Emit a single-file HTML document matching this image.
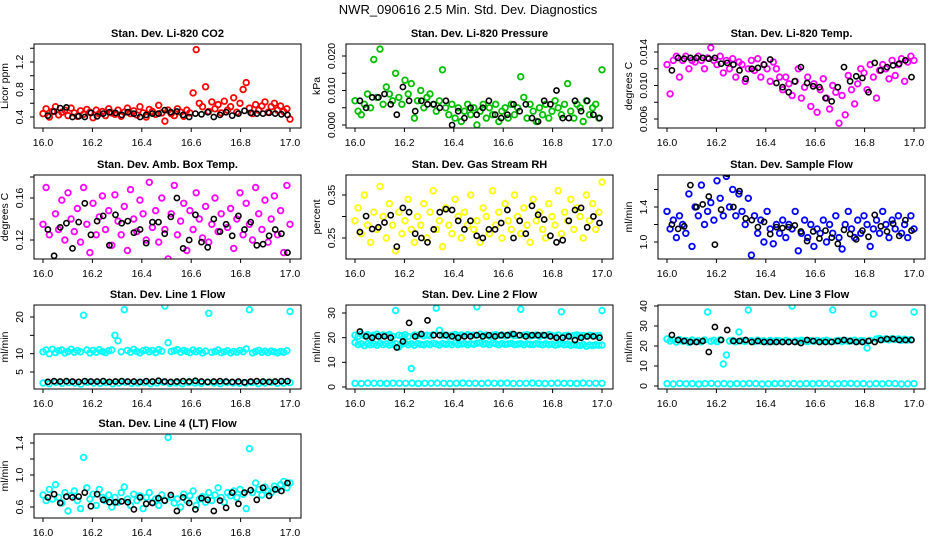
<!DOCTYPE html>
<html><head><meta charset="utf-8">
<style>
html,body{margin:0;padding:0;background:#fff;}
svg{display:block;font-family:"Liberation Sans",Arial,sans-serif;}
</style></head>
<body>
<svg id="chart" width="936" height="540" viewBox="0 0 936 540" xmlns="http://www.w3.org/2000/svg">
<text x="468" y="14" text-anchor="middle" font-size="13">NWR_090616  2.5 Min. Std. Dev. Diagnostics</text>
</svg>
<script>
// ---- data ----
const xTicks=[16.0,16.2,16.4,16.6,16.8,17.0];
const co2Main=[0.45,0.52,0.40,0.48,0.55,0.43,0.47,0.50,0.42,0.53,0.46,0.41,0.49,0.44,0.51,0.47,0.39,0.50,0.45,0.48,
0.42,0.52,0.46,0.44,0.50,0.41,0.47,0.53,0.45,0.49,0.43,0.55,0.46,0.40,0.51,0.48,0.44,0.57,0.46,0.34,
0.50,0.45,0.42,0.52,0.47,0.41,0.50,0.46,0.75,1.38,0.60,0.55,0.84,0.48,0.62,0.52,0.58,0.46,0.63,0.50,
0.55,0.68,0.47,0.60,0.80,0.90,0.53,0.45,0.58,0.50,0.56,0.62,0.47,0.55,0.60,0.50,0.56,0.48,0.52,0.37];
const co2Ref=[0.42,0.48,0.53,0.54,0.40,0.41,0.40,0.46,0.41,0.45,0.47,0.46,0.43,0.47,0.45,0.40,0.43,0.45,0.45,0.50,0.47,0.48,0.43,0.40,0.45,0.44,0.47,0.40,0.43,0.47,0.42,0.45,0.49,0.46,0.45,0.45,0.46,0.45,0.44,0.43];
const presMain=[0.007,0.004,0.003,0.006,0.009,0.005,0.019,0.008,0.022,0.006,0.011,0.009,0.007,0.015,0.008,0.006,0.013,0.009,0.012,0.002,
0.007,0.010,0.005,0.008,0.009,0.006,0.004,0.007,0.016,0.005,0.003,0.006,0.002,0.005,0.001,0.004,0.006,0.003,0.005,0.000,
0.004,0.006,0.002,0.005,0.003,0.006,0.001,0.004,0.005,0.002,0.006,0.003,0.005,0.014,0.008,0.002,0.006,0.004,0.001,0.005,
0.003,0.006,0.002,0.004,0.007,0.005,0.003,0.006,0.012,0.004,0.002,0.006,0.005,0.001,0.007,0.003,0.005,0.006,0.002,0.016];
const presRef=[0.007,0.005,0.008,0.008,0.009,0.006,0.003,0.011,0.007,0.004,0.007,0.006,0.006,0.005,0.007,0.000,0.004,0.002,0.005,0.003,0.005,0.007,0.003,0.002,0.003,0.006,0.004,0.006,0.002,0.001,0.007,0.006,0.010,0.002,0.002,0.007,0.004,0.007,0.003,0.002];
const tempMain=[0.0125,0.009,0.013,0.0135,0.011,0.013,0.0135,0.012,0.013,0.0128,0.0135,0.013,0.012,0.0133,0.0145,0.013,0.0125,0.0135,0.0115,0.013,
0.012,0.0132,0.011,0.0128,0.0125,0.0105,0.012,0.013,0.0118,0.0132,0.011,0.0125,0.012,0.0105,0.0128,0.012,0.011,0.0095,0.011,0.0102,
0.0088,0.0105,0.012,0.0085,0.0098,0.011,0.0075,0.0102,0.0068,0.0095,0.0108,0.0085,0.0072,0.010,0.0092,0.0055,0.0088,0.0065,0.0112,0.0095,
0.0078,0.0102,0.012,0.0115,0.0095,0.0125,0.011,0.0085,0.0118,0.0125,0.012,0.0108,0.013,0.0112,0.0125,0.0132,0.0105,0.0128,0.0135,0.013];
const tempRef=[0.0118,0.0133,0.0132,0.0133,0.0133,0.0133,0.0132,0.0133,0.0126,0.0127,0.0125,0.0118,0.0108,0.012,0.0121,0.0125,0.0131,0.0103,0.0098,0.0092,0.0105,0.0122,0.0103,0.0099,0.0098,0.0085,0.0081,0.0098,0.0122,0.0105,0.0111,0.0109,0.0092,0.0127,0.0118,0.0122,0.0124,0.0126,0.013,0.011];
const ambMain=[0.135,0.17,0.125,0.185,0.145,0.13,0.158,0.12,0.165,0.14,0.128,0.15,0.118,0.17,0.135,0.108,0.155,0.125,0.142,0.162,
0.13,0.148,0.115,0.163,0.138,0.125,0.152,0.11,0.168,0.14,0.128,0.158,0.145,0.12,0.175,0.132,0.148,0.118,0.16,0.13,
0.102,0.145,0.172,0.125,0.138,0.155,0.11,0.148,0.13,0.165,0.14,0.122,0.152,0.118,0.135,0.16,0.128,0.145,0.185,0.132,
0.15,0.112,0.14,0.165,0.125,0.155,0.135,0.12,0.17,0.145,0.13,0.158,0.118,0.14,0.162,0.125,0.148,0.108,0.172,0.135];
const ambRef=[0.13,0.105,0.132,0.136,0.112,0.137,0.155,0.125,0.138,0.143,0.115,0.144,0.136,0.138,0.127,0.13,0.117,0.137,0.137,0.126,0.142,0.16,0.112,0.12,0.144,0.118,0.113,0.14,0.128,0.135,0.124,0.143,0.13,0.137,0.115,0.116,0.124,0.13,0.126,0.108];
const rhMain=[0.29,0.32,0.26,0.35,0.28,0.24,0.31,0.27,0.37,0.30,0.25,0.33,0.28,0.22,0.31,0.26,0.29,0.34,0.27,0.24,
0.30,0.28,0.33,0.25,0.31,0.36,0.27,0.29,0.23,0.32,0.28,0.26,0.34,0.30,0.25,0.31,0.28,0.35,0.27,0.29,
0.24,0.32,0.30,0.26,0.36,0.28,0.31,0.25,0.33,0.29,0.27,0.35,0.30,0.26,0.32,0.28,0.24,0.34,0.29,0.31,
0.27,0.25,0.33,0.30,0.28,0.36,0.26,0.31,0.29,0.34,0.27,0.32,0.30,0.25,0.35,0.29,0.33,0.27,0.31,0.38];
const rhRef=[0.264,0.301,0.271,0.275,0.286,0.303,0.23,0.32,0.31,0.26,0.25,0.24,0.27,0.31,0.317,0.315,0.29,0.27,0.29,0.255,0.25,0.27,0.27,0.285,0.315,0.25,0.29,0.26,0.325,0.304,0.293,0.255,0.24,0.245,0.29,0.315,0.32,0.275,0.30,0.285];
const sampMain=[1.35,1.15,1.25,1.05,1.3,1.2,1.1,1.55,0.95,1.4,1.3,1.65,1.2,1.35,1.45,1.25,1.7,1.5,1.3,1.75,
1.4,1.6,1.3,1.55,1.35,1.2,1.5,0.85,1.3,1.1,1.25,1.0,1.35,1.15,0.98,1.2,1.1,1.25,1.05,1.2,
1.15,1.35,0.9,1.1,1.25,1.05,1.2,0.95,1.15,1.1,1.25,1.0,1.2,1.1,1.3,1.05,0.92,1.2,1.35,1.15,
1.05,1.25,1.1,1.3,1.2,0.95,1.15,1.25,1.1,1.35,1.2,1.05,1.25,1.15,1.3,1.1,1.2,1.05,1.3,1.15];
const sampRef=[1.2,1.15,1.18,1.65,1.4,1.43,1.52,0.97,1.37,1.78,1.40,1.58,1.27,1.25,1.17,1.23,1.09,1.17,1.16,1.17,1.19,1.12,1.01,1.12,1.04,1.13,1.05,0.98,1.14,1.09,1.03,1.13,1.06,1.31,1.18,1.12,1.21,1.07,1.25,1.13];
const l1Main=[10.5,11,10,11.2,10.3,10.8,11,10.2,10.6,11.2,10.4,10.8,10.5,20.5,11,10.2,10.9,10.4,11.1,10.6,
10.3,10.8,11,15,13.5,10.5,22,10.9,10.4,11.2,10.6,10.2,10.8,11,10.5,10.9,10.3,11.1,10.7,23,
13,10.6,10.8,11.1,10.4,10.9,10.6,10.3,11,10.5,10.8,10.2,10.7,21,10.4,10.6,11,10.3,10.5,10.8,
10.2,10.6,10.4,10.9,10.5,11.3,22,10.2,10.6,10.9,10.4,10.7,10.3,10.7,10.5,10.2,10.6,10.4,10.8,21.5];
const l1Low=[2.0,1.8,2.2,1.9,2.1,2.0,1.7,2.2,2.0,1.9,2.1,1.8,2.0,2.2,1.9,2.0,2.1,1.8,2.0,2.2,1.9,2.0,1.8,2.1,2.0,1.9,2.2,2.0,1.8,2.1,2.0,1.9,2.0,2.1,1.8,2.0,2.2,1.9,2.0,2.1];
const l1Ref=[2.3,2.5,2.4,2.5,2.4,2.3,2.5,2.4,2.4,2.5,2.3,2.4,2.5,2.4,2.4,2.3,2.5,2.4,2.6,2.4,2.3,2.4,2.5,2.4,2.6,2.4,2.3,2.4,2.5,2.4,2.3,2.4,2.2,2.4,2.5,2.4,2.3,2.4,2.5,2.5];
const l2Hi=[21,20.5,21.5,20.8,21.2,20.6,21,21.4,20.7,21.1,20.9,21.3,20.6,31,21,20.8,21.2,20.5,7.5,21.1,
20.9,21.3,20.7,21,20.8,21.2,32,23,20.9,21.1,20.6,21,21.3,20.8,21.1,20.7,21.2,20.9,21,32.5,
21.4,20.8,21.1,20.6,21,21.2,20.9,21.1,20.7,21,21.3,20.8,20.9,31.5,21,21.2,20.7,20.9,21.1,20.6,
21,20.8,21.2,20.9,20.7,21.1,30.5,20.8,21,20.6,20.9,21.1,20.7,20.9,20.6,21,20.8,20.7,20.9,31];
const l2Lo=[18,17.2,17.5,16.8,17.6,17.1,17.4,16.9,17.7,17.2,17.5,17,17.3,17.6,16.2,17.4,17.8,17.1,17.5,16.9,
17.6,17.3,17.1,17.5,17.2,17.7,17.4,17,17.6,17.3,17.5,17.1,17.8,17.2,17.4,17.6,17.1,17.5,17.3,17.7,
17.9,17.4,17.6,17.2,17.8,17.5,17.1,17.6,17.3,17.5,17.7,17.2,17.4,17.6,17.1,17.5,17.3,17.2,17.6,17.4,
17.1,17.5,17.2,17.4,17,17.3,17.5,17.1,17.4,16.9,17.2,17,16.8,17.2,16.5,17,16.8,17.1,16.9,17];
const l2Zero=[1.5,1.4,1.6,1.5,1.5,1.4,1.6,1.5,1.5,1.6,1.4,1.5,1.5,1.6,1.5,1.4,1.5,1.6,1.5,1.5,1.4,1.6,1.5,1.5,1.6,1.4,1.5,1.5,1.6,1.5,1.4,1.5,1.6,1.5,1.5,1.4,1.6,1.5,1.5,1.5];
const l2Ref=[22.5,20.5,20,20.5,20.5,20,16,18.5,26,20.5,21.5,27,21,21,21,20.5,20,20.5,20.5,21,20.5,21,20.5,21,21,21.5,21,20.5,21,21,21,20.5,20,20,20.5,19,20,20.5,20.5,20];
const l3Main=[23.5,22.5,23,22,23.2,22.4,22.8,21.8,23,22.3,22.6,22.1,23,37,22.4,22.9,22.2,23.1,11,15.5,
22.5,22.8,22.1,27,22.6,22.3,38,22.7,22.2,22.9,22.4,22.6,22.1,22.8,22.3,22.7,22.5,22.2,22.8,22.4,
40,22.6,22.3,22.9,22.5,22.2,22.7,22.4,22.8,22.1,22.6,22.9,22.3,38,22.5,22.7,22.2,22.8,22.4,22.6,
22.9,22.3,22.7,22.5,19,22.8,36,23.5,23.8,23.2,23.6,23.1,23.7,23.3,23.5,22.9,23.4,23,23.2,37];
const l3Zero=[1.2,1.0,1.3,1.1,1.2,1.0,1.2,1.3,1.1,1.2,1.0,1.2,1.1,1.3,1.2,1.0,1.1,1.2,1.3,1.1,1.2,1.0,1.2,1.1,1.3,1.2,1.0,1.1,1.2,1.3,1.1,1.2,1.0,1.2,1.1,1.3,1.2,1.0,1.1,1.2];
const l3Ref=[25.5,23,22.5,22,22,22.5,17,29.5,23,28,22.5,22.5,23,22,22.5,22,22,22,22,22,22,21.5,23,22.5,22,22,22,22.5,23,22.5,22,22,22.5,22,23,23.5,23.5,23,23,23];
const l4Main=[0.75,0.68,0.82,0.7,0.88,0.72,0.65,0.78,0.55,0.74,0.8,0.68,0.58,1.22,0.84,0.7,0.76,0.62,0.82,0.72,
0.68,0.75,0.6,0.72,0.66,0.78,0.85,0.7,0.62,0.76,0.68,0.74,0.58,0.72,0.78,0.66,0.7,0.62,0.75,0.68,
1.47,0.72,0.65,0.7,0.6,0.76,0.68,0.74,0.8,0.62,0.7,0.73,0.66,0.78,0.68,0.75,0.84,0.72,0.66,0.78,
0.74,0.8,0.72,0.82,0.76,0.58,1.33,0.78,0.9,0.82,0.75,0.85,0.8,0.78,0.86,0.82,0.88,0.92,0.84,0.9];
const l4Ref=[0.72,0.76,0.65,0.73,0.72,0.73,0.78,0.61,0.76,0.69,0.66,0.66,0.67,0.66,0.57,0.72,0.64,0.65,0.71,0.68,0.75,0.55,0.72,0.65,0.57,0.71,0.69,0.55,0.68,0.59,0.78,0.64,0.78,0.81,0.69,0.84,0.74,0.82,0.8,0.9];

// ---- layout ----
const NS="http://www.w3.org/2000/svg";
const svg=document.getElementById('chart');
const colLeft=[34,346,658];
const rowTop=[44,175,305,434];
const boxW=267, boxH=84;
function el(tag,attrs){const e=document.createElementNS(NS,tag);for(const k in attrs)e.setAttribute(k,attrs[k]);return e;}

const panels=[
 {c:0,r:0,key:'co2',title:'Stan. Dev. Li-820 CO2',ylab:'Licor ppm',ya:[0.4,117],yb:[1.2,62],ticks:[0.4,0.6,0.8,1.0,1.2,1.4],labels:['0.4','','0.8','','1.2',''],
  series:[[co2Main,'#ff0000',0],[co2Ref,'#000000',1]]},
 {c:1,r:0,key:'pressure',title:'Stan. Dev. Li-820 Pressure',ylab:'kPa',ya:[0,125],yb:[0.02,56],ticks:[0,0.005,0.01,0.015,0.02],labels:['0.000','','0.010','','0.020'],
  series:[[presMain,'#00c000',0],[presRef,'#000000',1]]},
 {c:2,r:0,key:'temp',title:'Stan. Dev. Li-820 Temp.',ylab:'degrees C',ya:[0.006,119],yb:[0.014,52],ticks:[0.006,0.008,0.010,0.012,0.014],labels:['0.006','','0.010','','0.014'],
  series:[[tempMain,'#ff00ff',0],[tempRef,'#000000',1]]},
 {c:0,r:1,key:'amb-temp',title:'Stan. Dev. Amb. Box Temp.',ylab:'degrees C',ya:[0.12,240],yb:[0.16,198],ticks:[0.12,0.14,0.16,0.18],labels:['0.12','','0.16',''],
  series:[[ambMain,'#ff00ff',0],[ambRef,'#000000',1]]},
 {c:1,r:1,key:'rh',title:'Stan. Dev. Gas Stream RH',ylab:'percent',ya:[0.25,238],yb:[0.35,195],ticks:[0.25,0.30,0.35],labels:['0.25','','0.35'],
  series:[[rhMain,'#ffff00',0],[rhRef,'#000000',1]]},
 {c:2,r:1,key:'sample-flow',title:'Stan. Dev. Sample Flow',ylab:'ml/min',ya:[1.0,242],yb:[1.4,207],ticks:[1.0,1.2,1.4,1.6],labels:['1.0','','1.4',''],
  series:[[sampMain,'#0000ff',0],[sampRef,'#000000',1]]},
 {c:0,r:2,key:'line1',title:'Stan. Dev. Line 1 Flow',ylab:'ml/min',ya:[5,372],yb:[20,317],ticks:[5,10,15,20],labels:['5','10','','20'],
  series:[[l1Main,'#00ffff',0],[l1Low,'#00ffff',0],[l1Ref,'#000000',1]]},
 {c:1,r:2,key:'line2',title:'Stan. Dev. Line 2 Flow',ylab:'ml/min',ya:[0,387],yb:[30,313],ticks:[0,10,20,30],labels:['0','10','20','30'],
  series:[[l2Lo,'#00ffff',0],[l2Hi,'#00ffff',0],[l2Zero,'#00ffff',0],[l2Ref,'#000000',1]]},
 {c:2,r:2,key:'line3',title:'Stan. Dev. Line 3 Flow',ylab:'ml/min',ya:[0,386],yb:[40,306],ticks:[0,10,20,30,40],labels:['0','10','20','30','40'],
  series:[[l3Main,'#00ffff',0],[l3Zero,'#00ffff',0],[l3Ref,'#000000',1]]},
 {c:0,r:3,key:'line4',title:'Stan. Dev. Line 4 (LT) Flow',ylab:'ml/min',ya:[0.6,507],yb:[1.4,443],ticks:[0.6,0.8,1.0,1.2,1.4],labels:['0.6','','1.0','','1.4'],
  series:[[l4Main,'#00ffff',0],[l4Ref,'#000000',1]]}
];

panels.forEach(p=>{
  const L=colLeft[p.c], T=rowTop[p.r], B=T+boxH;
  const g=el('g',{});
  
  
  svg.appendChild(g);
  const xs=v=>L+9+(v-16)*247;
  const ys=v=>p.ya[1]+(v-p.ya[0])*(p.yb[1]-p.ya[1])/(p.yb[0]-p.ya[0]);
  const t=el('text',{x:L+boxW/2,y:T-7,'text-anchor':'middle','font-size':'11','font-weight':'bold'});
  t.textContent=p.title;
  
  
  g.appendChild(t);
  const clipId='clip-'+p.key;
  const cp=el('clipPath',{id:clipId});cp.appendChild(el('rect',{x:L,y:T,width:boxW,height:boxH}));g.appendChild(cp);
  const pg=el('g',{'clip-path':'url(#'+clipId+')'});
  
  
  g.appendChild(pg);
  p.series.forEach(s=>{
    const vals=s[0], col=s[1], isRef=s[2];
    const n=vals.length;
    vals.forEach((v,i)=>{
      const xv=isRef?16.02+0.97*i/(n-1):16+i/(n-1);
      const c=el('circle',{cx:xs(xv).toFixed(1),cy:ys(v).toFixed(1),r:isRef?2.6:2.8,fill:'none',stroke:col,'stroke-width':isRef?1.6:1.8});
      
      
      pg.appendChild(c);
    });
  });
  const box=el('rect',{x:L,y:T,width:boxW,height:boxH,fill:'none',stroke:'#000','stroke-width':1});
  
  
  g.appendChild(box);
  xTicks.forEach(v=>{
    const x=xs(v);
    g.appendChild(el('line',{x1:x,y1:B,x2:x,y2:B+4,stroke:'#000'}));
    const lb=el('text',{x:x,y:B+18,'text-anchor':'middle','font-size':'10.5'});
    lb.textContent=v.toFixed(1);
    
    
    g.appendChild(lb);
  });
  p.ticks.forEach((v,i)=>{
    const y=ys(v);
    if(y<T-1||y>B+1) return;
    g.appendChild(el('line',{x1:L-4,y1:y,x2:L,y2:y,stroke:'#000'}));
    const txt=p.labels[i];
    if(txt){
      const lx=L-11, ly=y.toFixed(1);
      const lb=el('text',{x:lx,y:ly,'text-anchor':'middle','font-size':'10.5',transform:'rotate(-90 '+lx+' '+ly+')'});
      lb.textContent=txt;
      
      
      g.appendChild(lb);
    }
  });
  const yx=L-26, yy=T+boxH/2;
  const yl=el('text',{x:yx,y:yy,'text-anchor':'middle','font-size':'10.5',transform:'rotate(-90 '+yx+' '+yy+')'});
  yl.textContent=p.ylab;
  
  
  g.appendChild(yl);
});
</script>
</body></html>
